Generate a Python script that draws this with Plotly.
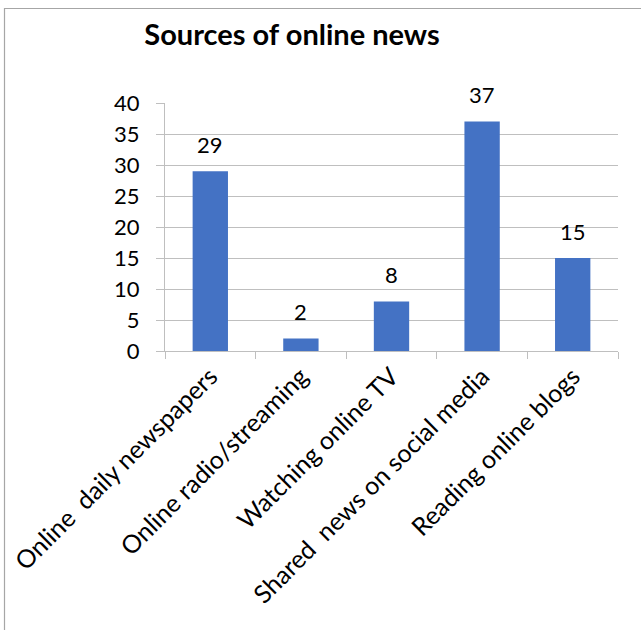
import plotly.graph_objects as go

# Data
categories = [
    "Online  daily newspapers",
    "Online radio/streaming",
    "Watching online TV",
    "Shared  news on social media",
    "Reading online blogs",
]
values = [29, 2, 8, 37, 15]
y_ticks = [0, 5, 10, 15, 20, 25, 30, 35, 40]

W, H = 641, 630
L, R, T, B = 165, 23, 103, 279

font_family = "Lato, 'Open Sans', sans-serif"
grid_color = "#BFBFBF"

fig = go.Figure()
fig.add_trace(
    go.Bar(
        x=categories,
        y=values,
        marker=dict(color="#4472C4", line=dict(width=0)),
        hoverinfo="x+y",
    )
)

# Value labels above each bar
for c, v in zip(categories, values):
    fig.add_annotation(
        x=c, y=v, xref="x", yref="y",
        text=str(v), showarrow=False,
        yanchor="middle", yshift=27,
        font=dict(family=font_family, size=22, color="#000000"),
    )

# Chart frame (only top and left edges fall inside the page)
pw, ph = W - L - R, H - T - B
def px_x(p):
    return (p - L) / pw
def px_y(p):
    return (H - B - p) / ph

fig.add_shape(
    type="rect", xref="paper", yref="paper",
    x0=px_x(4.5), x1=px_x(660), y0=px_y(8.5), y1=px_y(660),
    line=dict(color="#A6A6A6", width=1.2), fillcolor="rgba(0,0,0,0)",
    layer="below",
)

fig.update_layout(
    width=W, height=H,
    margin=dict(l=L, r=R, t=T, b=B, autoexpand=False),
    paper_bgcolor="white", plot_bgcolor="white",
    bargap=0.61,
    showlegend=False,
    title=dict(
        text="<b>Sources of online news</b>",
        x=292 / W, xanchor="center", xref="container",
        y=1 - 35 / H, yanchor="middle", yref="container",
        font=dict(family=font_family, size=29, color="#000000"),
    ),
    font=dict(family=font_family, color="#000000"),
)

fig.update_xaxes(
    type="category",
    automargin=False,
    tickangle=-45,
    tickson="boundaries",
    ticks="outside", ticklen=7, tickcolor=grid_color, tickwidth=1,
    showline=True, linecolor=grid_color, linewidth=1,
    showgrid=False,
    tickfont=dict(family=font_family, size=25, color="#000000"),
)

fig.update_yaxes(
    automargin=False,
    range=[0, 40],
    tickvals=y_ticks,
    ticktext=[str(t) for t in y_ticks],
    ticks="outside", ticklen=8, tickcolor=grid_color, tickwidth=1,
    showline=True, linecolor=grid_color, linewidth=1,
    showgrid=True, gridcolor=grid_color, gridwidth=1,
    zeroline=False,
    ticklabelstandoff=12,
    tickfont=dict(family=font_family, size=22, color="#000000"),
)

fig.write_html("out.html")
